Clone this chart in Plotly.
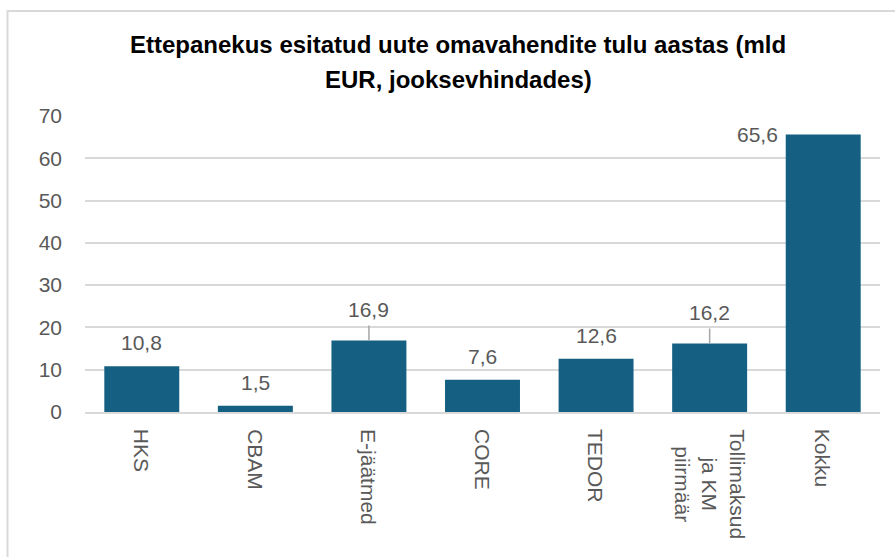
import plotly.graph_objects as go

# ---- data ----
categories = ["HKS", "CBAM", "E-jäätmed", "CORE", "TEDOR", "Tollimaksud<br>ja KM<br>piirmäär", "Kokku"]
values = [10.8, 1.5, 16.9, 7.6, 12.6, 16.2, 65.6]
value_labels = ["10,8", "1,5", "16,9", "7,6", "12,6", "16,2", "65,6"]
title_lines = ["Ettepanekus esitatud uute omavahendite tulu aastas (mld", "EUR, jooksevhindades)"]
y_ticks = [0, 10, 20, 30, 40, 50, 60, 70]

# ---- layout constants ----
W, H = 895, 557
ML, MR, MT, MB = 85, 15, 116, 145
PW = W - ML - MR
PH = H - MT - MB
BAR_COLOR = "#156082"
GRID = "#d9d9d9"
TXT = "#595959"
FONT = "Liberation Sans, Arial, sans-serif"

def py(pix_y):
    """pixel y (from top) -> paper y"""
    return (H - MB - pix_y) / PH

def px(pix_x):
    return (pix_x - ML) / PW

fig = go.Figure()
fig.add_trace(go.Bar(
    x=categories, y=values,
    marker=dict(color=BAR_COLOR, line=dict(width=0)),
    hoverinfo="skip",
))

annotations = []
# title (two lines)
title_centers = [44.7, 79.7]
for line, cy in zip(title_lines, title_centers):
    annotations.append(dict(
        text=line, xref="paper", yref="paper", x=px(458), y=py(cy),
        xanchor="center", yanchor="middle", showarrow=False,
        font=dict(family=FONT, size=24, color="#000000", weight="bold"),
    ))

# data labels
leader = {"E-jäätmed", "Tollimaksud<br>ja KM<br>piirmäär"}
for cat, v, lab in zip(categories, values, value_labels):
    f = dict(family=FONT, size=21, color=TXT)
    if cat in leader:
        annotations.append(dict(
            text=lab, x=cat, y=v, xref="x", yref="y",
            showarrow=True, arrowhead=0, arrowwidth=1.5, arrowcolor="#a6a6a6",
            ax=0, ay=-31, borderpad=4, font=f,
        ))
    elif cat == "Kokku":
        annotations.append(dict(
            text=lab, x=cat, y=v, xref="x", yref="y", showarrow=False,
            xanchor="right", yanchor="middle", xshift=-43, font=f,
        ))
    else:
        annotations.append(dict(
            text=lab, x=cat, y=v, xref="x", yref="y", showarrow=False,
            xanchor="center", yanchor="bottom", yshift=10, font=f,
        ))

# category labels (rotated)
for cat in categories:
    annotations.append(dict(
        text=cat, x=cat, y=0, xref="x", yref="paper", showarrow=False,
        textangle=90, xanchor="center", yanchor="top", yshift=-15, align="center",
        font=dict(family=FONT, size=21, color=TXT),
    ))

fig.update_layout(
    width=W, height=H,
    margin=dict(l=ML, r=MR, t=MT, b=MB, pad=0),
    paper_bgcolor="white", plot_bgcolor="white",
    showlegend=False,
    bargap=0.34,
    annotations=annotations,
    shapes=[dict(
        type="rect", xref="paper", yref="paper",
        x0=px(7.5), x1=px(W + 40), y0=py(H + 40), y1=py(11),
        line=dict(color=GRID, width=2), fillcolor="rgba(0,0,0,0)", layer="below",
    )],
    xaxis=dict(
        showticklabels=False, showgrid=False, zeroline=False,
        showline=True, linecolor=GRID, linewidth=2, ticks="",
    ),
    yaxis=dict(
        range=[0, 70], tickvals=y_ticks, showgrid=True, gridcolor=GRID, gridwidth=2,
        zeroline=False, showline=False, ticks="",
        ticklabelstandoff=22,
        tickfont=dict(family=FONT, size=21, color=TXT),
    ),
)

fig.write_html(
    "out.html",
    config={"displayModeBar": False},
    post_script="document.body.style.margin='0px';document.body.style.padding='0px';document.body.style.overflow='hidden';",
)
